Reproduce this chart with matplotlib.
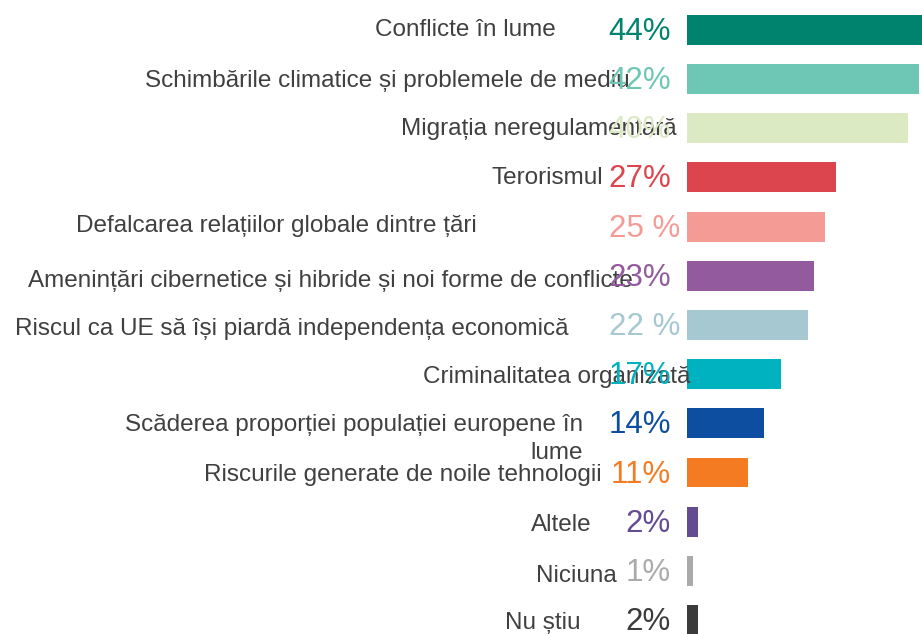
import matplotlib
matplotlib.use("Agg")
import matplotlib.pyplot as plt

categories = [
    "Conflicte în lume",
    "Schimbările climatice și problemele de mediu",
    "Migrația neregulamentară",
    "Terorismul",
    "Defalcarea relațiilor globale dintre țări",
    "Amenințări cibernetice și hibride și noi forme de conflicte",
    "Riscul ca UE să își piardă independența economică",
    "Criminalitatea organizată",
    "Scăderea proporției populației europene în\nlume",
    "Riscurile generate de noile tehnologii",
    "Altele",
    "Niciuna",
    "Nu știu",
]
values = [44, 42, 40, 27, 25, 23, 22, 17, 14, 11, 2, 1, 2]
value_labels = ["44%", "42%", "40%", "27%", "25 %", "23%", "22 %", "17%",
                "14%", "11%", "2%", "1%", "2%"]
colors = ["#00836E", "#6DC7B4", "#DBEAC3", "#DC454D", "#F49B96", "#935A9D",
          "#A5C8D1", "#00B1BF", "#0D4EA1", "#F47B22", "#644C93", "#AAAAAA",
          "#3B3B3B"]

# layout offsets (pixels) for labels relative to bar origin
cat_dx = [-131, -57, -10, -84, -210, -54, -119, 3, -104, -85, -95, -70, -107]
cat_dy = [0, -2, -1, -1, 1, -5, -4, -3, -16, -2, -3, -5, -3]
val_dx = [-16, -16, -16, -16, -7, -16, -7, -16, -16, -16, -16, -16, -16]

plt.rcParams['font.family'] = ['Liberation Sans', 'DejaVu Sans']

W, H = 922, 634
fig = plt.figure(figsize=(W / 100, H / 100), dpi=100)
x0 = 687
ax = fig.add_axes([x0 / W, 0, 1 - x0 / W, 1])
ax.set_xlim(0, (W - x0) / 5.52)
step = 49.17
ax.set_ylim(12 + 14 / step, -30 / step)
ax.axis("off")

ypos = list(range(len(values)))
ax.barh(ypos, values, height=30 / step, color=colors)

for i, (cat, vl, col) in enumerate(zip(categories, value_labels, colors)):
    ax.annotate(cat, xy=(0, i), xycoords="data",
                xytext=(cat_dx[i], cat_dy[i]), textcoords="offset pixels",
                ha="right", va="center", fontsize=17.5, color="#404040",
                multialignment="right", linespacing=1.35,
                annotation_clip=False)
    ax.annotate(vl, xy=(0, i), xycoords="data",
                xytext=(val_dx[i], -2), textcoords="offset pixels",
                ha="right", va="center", fontsize=22.5, color=col,
                annotation_clip=False)

fig.savefig("out.png", dpi=100)
